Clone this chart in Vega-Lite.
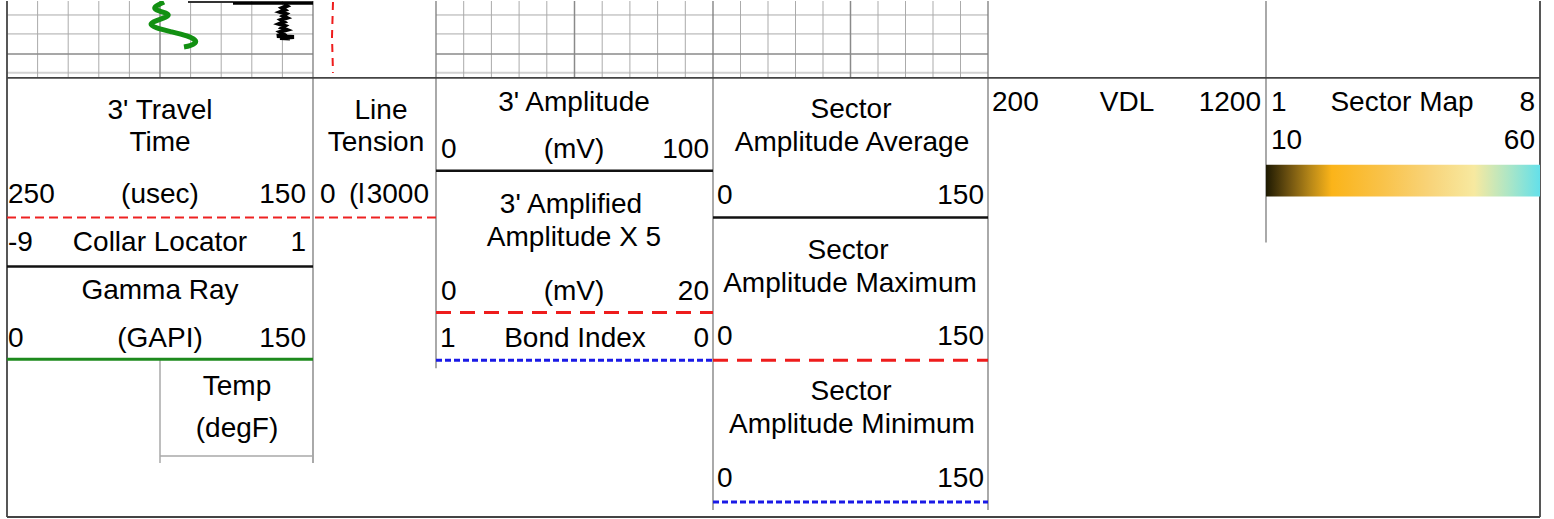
{
  "$schema": "https://vega.github.io/schema/vega-lite/v6.json",
  "width": 1554,
  "height": 519,
  "autosize": {"type": "fit", "contains": "padding"},
  "padding": 0,
  "background": "white",
  "config": {"view": {"stroke": null}},
  "datasets": {
    "rules": [
      {"kind": "gridMinor", "x": 37.6, "x2": 37.6, "y": 0, "y2": 77},
      {"kind": "gridMinor", "x": 68.2, "x2": 68.2, "y": 0, "y2": 77},
      {"kind": "gridMinor", "x": 98.8, "x2": 98.8, "y": 0, "y2": 77},
      {"kind": "gridMinor", "x": 129.4, "x2": 129.4, "y": 0, "y2": 77},
      {"kind": "gridMajor", "x": 160, "x2": 160, "y": 0, "y2": 77},
      {"kind": "gridMinor", "x": 190.6, "x2": 190.6, "y": 0, "y2": 77},
      {"kind": "gridMinor", "x": 221.2, "x2": 221.2, "y": 0, "y2": 77},
      {"kind": "gridMinor", "x": 251.8, "x2": 251.8, "y": 0, "y2": 77},
      {"kind": "gridMinor", "x": 282.4, "x2": 282.4, "y": 0, "y2": 77},
      {"kind": "gridMinor", "x": 463.7, "x2": 463.7, "y": 0, "y2": 77},
      {"kind": "gridMinor", "x": 491.4, "x2": 491.4, "y": 0, "y2": 77},
      {"kind": "gridMinor", "x": 519.1, "x2": 519.1, "y": 0, "y2": 77},
      {"kind": "gridMinor", "x": 546.8, "x2": 546.8, "y": 0, "y2": 77},
      {"kind": "gridMajor", "x": 574.5, "x2": 574.5, "y": 0, "y2": 77},
      {"kind": "gridMinor", "x": 602.2, "x2": 602.2, "y": 0, "y2": 77},
      {"kind": "gridMinor", "x": 629.9, "x2": 629.9, "y": 0, "y2": 77},
      {"kind": "gridMinor", "x": 657.6, "x2": 657.6, "y": 0, "y2": 77},
      {"kind": "gridMinor", "x": 685.3, "x2": 685.3, "y": 0, "y2": 77},
      {"kind": "gridMinor", "x": 740.5, "x2": 740.5, "y": 0, "y2": 77},
      {"kind": "gridMinor", "x": 768, "x2": 768, "y": 0, "y2": 77},
      {"kind": "gridMinor", "x": 795.5, "x2": 795.5, "y": 0, "y2": 77},
      {"kind": "gridMinor", "x": 823, "x2": 823, "y": 0, "y2": 77},
      {"kind": "gridMajor", "x": 850.5, "x2": 850.5, "y": 0, "y2": 77},
      {"kind": "gridMinor", "x": 878, "x2": 878, "y": 0, "y2": 77},
      {"kind": "gridMinor", "x": 905.5, "x2": 905.5, "y": 0, "y2": 77},
      {"kind": "gridMinor", "x": 933, "x2": 933, "y": 0, "y2": 77},
      {"kind": "gridMinor", "x": 960.5, "x2": 960.5, "y": 0, "y2": 77},
      {"kind": "gridMinor", "x": 7, "x2": 313, "y": 14, "y2": 14},
      {"kind": "gridMinor", "x": 7, "x2": 313, "y": 33, "y2": 33},
      {"kind": "gridMajor", "x": 7, "x2": 313, "y": 53, "y2": 53},
      {"kind": "gridLight", "x": 7, "x2": 313, "y": 72, "y2": 72},
      {"kind": "gridMinor", "x": 436, "x2": 988, "y": 14, "y2": 14},
      {"kind": "gridMinor", "x": 436, "x2": 988, "y": 33, "y2": 33},
      {"kind": "gridMajor", "x": 436, "x2": 988, "y": 53, "y2": 53},
      {"kind": "gridLight", "x": 436, "x2": 988, "y": 72, "y2": 72},
      {"kind": "frame", "x": 313, "x2": 313, "y": 0, "y2": 463},
      {"kind": "frame", "x": 436, "x2": 436, "y": 0, "y2": 368},
      {"kind": "frame", "x": 713, "x2": 713, "y": 0, "y2": 510},
      {"kind": "frame", "x": 988, "x2": 988, "y": 0, "y2": 510},
      {"kind": "frame", "x": 1266, "x2": 1266, "y": 0, "y2": 242},
      {"kind": "thinGray", "x": 160, "x2": 160, "y": 359, "y2": 463},
      {"kind": "thinGray", "x": 160, "x2": 313, "y": 456, "y2": 456},
      {"kind": "border", "x": 7, "x2": 1540, "y": 77, "y2": 77},
      {"kind": "border", "x": 7, "x2": 7, "y": 0, "y2": 517},
      {"kind": "border", "x": 1540, "x2": 1540, "y": 0, "y2": 517},
      {"kind": "border", "x": 7, "x2": 1540, "y": 517, "y2": 517},
      {"kind": "redShort", "x": 7, "x2": 436, "y": 217, "y2": 217},
      {"kind": "black", "x": 7, "x2": 313, "y": 266, "y2": 266},
      {"kind": "green", "x": 7, "x2": 313, "y": 359, "y2": 359},
      {"kind": "black", "x": 436, "x2": 713, "y": 170, "y2": 170},
      {"kind": "redLong", "x": 436, "x2": 713, "y": 312, "y2": 312},
      {"kind": "blue", "x": 436, "x2": 713, "y": 360, "y2": 360},
      {"kind": "black", "x": 713, "x2": 988, "y": 217, "y2": 217},
      {"kind": "redLong", "x": 713, "x2": 988, "y": 360, "y2": 360},
      {"kind": "blue", "x": 713, "x2": 988, "y": 502, "y2": 502}
    ],
    "curves": [
      {"series": "GR", "o": 0, "x": 164, "y": 1},
      {"series": "GR", "o": 1, "x": 158, "y": 4},
      {"series": "GR", "o": 2, "x": 153, "y": 7},
      {"series": "GR", "o": 3, "x": 158, "y": 10},
      {"series": "GR", "o": 4, "x": 170, "y": 13},
      {"series": "GR", "o": 5, "x": 167, "y": 16},
      {"series": "GR", "o": 6, "x": 155, "y": 20},
      {"series": "GR", "o": 7, "x": 149, "y": 23},
      {"series": "GR", "o": 8, "x": 155, "y": 27},
      {"series": "GR", "o": 9, "x": 172, "y": 31},
      {"series": "GR", "o": 10, "x": 188, "y": 35},
      {"series": "GR", "o": 11, "x": 196, "y": 39},
      {"series": "GR", "o": 12, "x": 196, "y": 42},
      {"series": "GR", "o": 13, "x": 190, "y": 45},
      {"series": "GR", "o": 14, "x": 184, "y": 46},
      {"series": "TTthin", "o": 0, "x": 188, "y": 1},
      {"series": "TTthin", "o": 1, "x": 233, "y": 1},
      {"series": "TT", "o": 0, "x": 233, "y": 2},
      {"series": "TT", "o": 1, "x": 313, "y": 2},
      {"series": "TTw", "o": 0, "x": 284, "y": 3},
      {"series": "TTw", "o": 1, "x": 287, "y": 5},
      {"series": "TTw", "o": 2, "x": 282, "y": 7},
      {"series": "TTw", "o": 3, "x": 285, "y": 9},
      {"series": "TTw", "o": 4, "x": 280, "y": 11},
      {"series": "TTw", "o": 5, "x": 286, "y": 13},
      {"series": "TTw", "o": 6, "x": 283, "y": 15},
      {"series": "TTw", "o": 7, "x": 287, "y": 17},
      {"series": "TTw", "o": 8, "x": 281, "y": 19},
      {"series": "TTw", "o": 9, "x": 284, "y": 21},
      {"series": "TTw", "o": 10, "x": 279, "y": 23},
      {"series": "TTw", "o": 11, "x": 285, "y": 25},
      {"series": "TTw", "o": 12, "x": 282, "y": 27},
      {"series": "TTw", "o": 13, "x": 287, "y": 29},
      {"series": "TTw", "o": 14, "x": 280, "y": 31},
      {"series": "TTw", "o": 15, "x": 283, "y": 33},
      {"series": "TTw", "o": 16, "x": 277, "y": 35},
      {"series": "TTw", "o": 17, "x": 294, "y": 36},
      {"series": "TTw", "o": 18, "x": 280, "y": 37},
      {"series": "TTw", "o": 19, "x": 290, "y": 37.5},
      {"series": "LT", "o": 0, "x": 333, "y": 1},
      {"series": "LT", "o": 1, "x": 332, "y": 36},
      {"series": "LT", "o": 2, "x": 333, "y": 72}
    ],
    "labels": [
      {"a": "left", "t": "250", "x": 8, "y": 202},
      {"a": "left", "t": "-9", "x": 8, "y": 250},
      {"a": "left", "t": "0", "x": 8, "y": 347},
      {"a": "left", "t": "0", "x": 320, "y": 202},
      {"a": "left", "t": "(l", "x": 349, "y": 202},
      {"a": "left", "t": "0", "x": 441, "y": 157},
      {"a": "left", "t": "0", "x": 441, "y": 300},
      {"a": "left", "t": "1", "x": 440, "y": 347},
      {"a": "left", "t": "0", "x": 717, "y": 203},
      {"a": "left", "t": "0", "x": 717, "y": 345},
      {"a": "left", "t": "0", "x": 717, "y": 487},
      {"a": "left", "t": "200", "x": 992, "y": 110},
      {"a": "left", "t": "1", "x": 1271, "y": 110},
      {"a": "left", "t": "10", "x": 1271, "y": 148},
      {"a": "center", "t": "3' Travel", "x": 160, "y": 118},
      {"a": "center", "t": "Time", "x": 160, "y": 150},
      {"a": "center", "t": "(usec)", "x": 160, "y": 202},
      {"a": "center", "t": "Collar Locator", "x": 160, "y": 250},
      {"a": "center", "t": "Gamma Ray", "x": 160, "y": 299},
      {"a": "center", "t": "(GAPI)", "x": 160, "y": 347},
      {"a": "center", "t": "Temp", "x": 237, "y": 395},
      {"a": "center", "t": "(degF)", "x": 237, "y": 437},
      {"a": "center", "t": "Line", "x": 381, "y": 118},
      {"a": "center", "t": "Tension", "x": 376, "y": 150},
      {"a": "center", "t": "3' Amplitude", "x": 574, "y": 110},
      {"a": "center", "t": "(mV)", "x": 574, "y": 157},
      {"a": "center", "t": "3' Amplified", "x": 571, "y": 212},
      {"a": "center", "t": "Amplitude X 5", "x": 574, "y": 245},
      {"a": "center", "t": "(mV)", "x": 574, "y": 300},
      {"a": "center", "t": "Bond Index", "x": 575, "y": 347},
      {"a": "center", "t": "Sector", "x": 851, "y": 117},
      {"a": "center", "t": "Amplitude Average", "x": 852, "y": 150},
      {"a": "center", "t": "Sector", "x": 848, "y": 258},
      {"a": "center", "t": "Amplitude Maximum", "x": 850, "y": 292},
      {"a": "center", "t": "Sector", "x": 851, "y": 400},
      {"a": "center", "t": "Amplitude Minimum", "x": 852, "y": 433},
      {"a": "center", "t": "VDL", "x": 1127, "y": 110},
      {"a": "center", "t": "Sector Map", "x": 1402, "y": 110},
      {"a": "right", "t": "150", "x": 306, "y": 202},
      {"a": "right", "t": "1", "x": 306, "y": 250},
      {"a": "right", "t": "150", "x": 306, "y": 347},
      {"a": "right", "t": "3000", "x": 429, "y": 202},
      {"a": "right", "t": "100", "x": 709, "y": 157},
      {"a": "right", "t": "20", "x": 709, "y": 300},
      {"a": "right", "t": "0", "x": 709, "y": 347},
      {"a": "right", "t": "150", "x": 984, "y": 203},
      {"a": "right", "t": "150", "x": 984, "y": 345},
      {"a": "right", "t": "150", "x": 984, "y": 487},
      {"a": "right", "t": "1200", "x": 1261, "y": 110},
      {"a": "right", "t": "8", "x": 1535, "y": 110},
      {"a": "right", "t": "60", "x": 1535, "y": 148}
    ],
    "boxes": [
      {"kind": "colorbar", "x": 1266, "x2": 1540, "y": 164, "y2": 196}
    ]
  },
  "encoding": {
    "x": {"field": "x", "type": "quantitative", "axis": null, "scale": {"domain": [0, 1554], "nice": false, "zero": false}},
    "y": {"field": "y", "type": "quantitative", "axis": null, "scale": {"domain": [0, 519], "nice": false, "zero": false, "reverse": true}}
  },
  "layer": [
    {"data": {"name": "rules"}, "transform": [{"filter": "datum.kind == 'gridLight'"}], "mark": {"type": "rule", "color": "#d2d2d2", "strokeWidth": 2}, "encoding": {"x2": {"field": "x2"}, "y2": {"field": "y2"}}},
    {"data": {"name": "rules"}, "transform": [{"filter": "datum.kind == 'gridMinor'"}], "mark": {"type": "rule", "color": "#ababab", "strokeWidth": 1}, "encoding": {"x2": {"field": "x2"}, "y2": {"field": "y2"}}},
    {"data": {"name": "rules"}, "transform": [{"filter": "datum.kind == 'gridMajor'"}], "mark": {"type": "rule", "color": "#8a8a8a", "strokeWidth": 1.5}, "encoding": {"x2": {"field": "x2"}, "y2": {"field": "y2"}}},
    {"data": {"name": "rules"}, "transform": [{"filter": "datum.kind == 'frame'"}], "mark": {"type": "rule", "color": "#7c7c7c", "strokeWidth": 1.3}, "encoding": {"x2": {"field": "x2"}, "y2": {"field": "y2"}}},
    {"data": {"name": "rules"}, "transform": [{"filter": "datum.kind == 'thinGray'"}], "mark": {"type": "rule", "color": "#a8a8a8", "strokeWidth": 1.5}, "encoding": {"x2": {"field": "x2"}, "y2": {"field": "y2"}}},
    {"data": {"name": "rules"}, "transform": [{"filter": "datum.kind == 'border'"}], "mark": {"type": "rule", "color": "#444444", "strokeWidth": 1.8}, "encoding": {"x2": {"field": "x2"}, "y2": {"field": "y2"}}},
    {"data": {"name": "rules"}, "transform": [{"filter": "datum.kind == 'black'"}], "mark": {"type": "rule", "color": "#111111", "strokeWidth": 2.5}, "encoding": {"x2": {"field": "x2"}, "y2": {"field": "y2"}}},
    {"data": {"name": "rules"}, "transform": [{"filter": "datum.kind == 'green'"}], "mark": {"type": "rule", "color": "#1d8a1d", "strokeWidth": 3}, "encoding": {"x2": {"field": "x2"}, "y2": {"field": "y2"}}},
    {"data": {"name": "rules"}, "transform": [{"filter": "datum.kind == 'redShort'"}], "mark": {"type": "rule", "color": "#ee2222", "strokeWidth": 2, "strokeDash": [9, 5]}, "encoding": {"x2": {"field": "x2"}, "y2": {"field": "y2"}}},
    {"data": {"name": "rules"}, "transform": [{"filter": "datum.kind == 'redLong'"}], "mark": {"type": "rule", "color": "#ee1c1c", "strokeWidth": 3, "strokeDash": [15, 9]}, "encoding": {"x2": {"field": "x2"}, "y2": {"field": "y2"}}},
    {"data": {"name": "rules"}, "transform": [{"filter": "datum.kind == 'blue'"}], "mark": {"type": "rule", "color": "#1a1ae6", "strokeWidth": 3, "strokeDash": [6, 3]}, "encoding": {"x2": {"field": "x2"}, "y2": {"field": "y2"}}},
    {"data": {"name": "curves"}, "transform": [{"filter": "datum.series == 'GR'"}], "mark": {"type": "line", "color": "#129012", "strokeWidth": 5, "interpolate": "basis", "clip": true}, "encoding": {"order": {"field": "o", "type": "quantitative"}}},
    {"data": {"name": "curves"}, "transform": [{"filter": "datum.series == 'TTthin'"}], "mark": {"type": "line", "color": "#333333", "strokeWidth": 2, "clip": true}, "encoding": {"order": {"field": "o", "type": "quantitative"}}},
    {"data": {"name": "curves"}, "transform": [{"filter": "datum.series == 'TT'"}], "mark": {"type": "line", "color": "#000000", "strokeWidth": 3.5, "clip": true}, "encoding": {"order": {"field": "o", "type": "quantitative"}}},
    {"data": {"name": "curves"}, "transform": [{"filter": "datum.series == 'TTw'"}], "mark": {"type": "line", "color": "#000000", "strokeWidth": 4, "clip": true}, "encoding": {"order": {"field": "o", "type": "quantitative"}}},
    {"data": {"name": "curves"}, "transform": [{"filter": "datum.series == 'LT'"}], "mark": {"type": "line", "color": "#ee1c1c", "strokeWidth": 2, "strokeDash": [8, 6], "clip": true}, "encoding": {"order": {"field": "o", "type": "quantitative"}}},
    {"data": {"name": "boxes"}, "transform": [{"filter": "datum.kind == 'colorbar'"}], "mark": {"type": "rect", "fill": {"gradient": "linear", "x1": 0, "y1": 0, "x2": 1, "y2": 0, "stops": [{"offset": 0, "color": "#1e1a02"}, {"offset": 0.08, "color": "#6b5010"}, {"offset": 0.16, "color": "#b58618"}, {"offset": 0.24, "color": "#fbb419"}, {"offset": 0.42, "color": "#f9c248"}, {"offset": 0.6, "color": "#f8d47a"}, {"offset": 0.76, "color": "#f7e9a0"}, {"offset": 0.88, "color": "#b0e6c4"}, {"offset": 1, "color": "#64e0ea"}]}}, "encoding": {"x2": {"field": "x2"}, "y2": {"field": "y2"}}},
    {"data": {"name": "labels"}, "transform": [{"filter": "datum.a == 'left'"}], "mark": {"type": "text", "align": "left", "baseline": "alphabetic", "font": "Liberation Sans", "fontSize": 28, "color": "#000000"}, "encoding": {"text": {"field": "t"}}},
    {"data": {"name": "labels"}, "transform": [{"filter": "datum.a == 'center'"}], "mark": {"type": "text", "align": "center", "baseline": "alphabetic", "font": "Liberation Sans", "fontSize": 28, "color": "#000000"}, "encoding": {"text": {"field": "t"}}},
    {"data": {"name": "labels"}, "transform": [{"filter": "datum.a == 'right'"}], "mark": {"type": "text", "align": "right", "baseline": "alphabetic", "font": "Liberation Sans", "fontSize": 28, "color": "#000000"}, "encoding": {"text": {"field": "t"}}}
  ]
}
